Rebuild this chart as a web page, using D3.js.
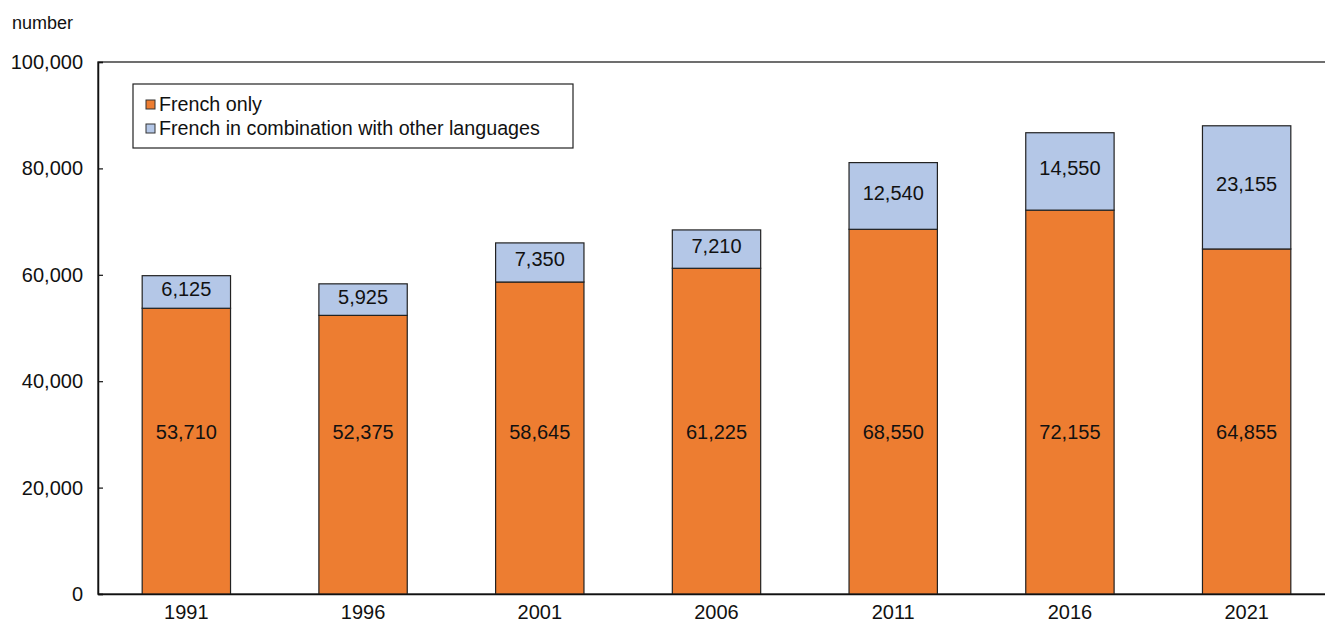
<!DOCTYPE html>
<html>
<head>
<meta charset="utf-8">
<script src="https://cdn.jsdelivr.net/npm/d3@7"></script>
<style>
  html, body { margin: 0; padding: 0; background: #fff; }
  svg { display: block; font-family: "Liberation Sans", Arial, sans-serif; }
</style>
</head>
<body>
<div id="chart"></div>
<script>
'use strict';

// Data
var years = ['1991', '1996', '2001', '2006', '2011', '2016', '2021'];
var frenchOnly = [53710, 52375, 58645, 61225, 68550, 72155, 64855];
var frenchCombined = [6125, 5925, 7350, 7210, 12540, 14550, 23155];
var seriesNames = ['French only', 'French in combination with other languages'];
var seriesColors = ['#ED7D31', '#B4C7E7'];
var yTicks = [0, 20000, 40000, 60000, 80000, 100000];

var width = 1325, height = 623;
var margin = { top: 62, left: 98, bottom: 29 };
var plotW = 1237;   // right edge runs off the canvas, as in the original
var plotH = height - margin.top - margin.bottom;

var svg = d3.select('#chart').append('svg')
  .attr('width', width)
  .attr('height', height);

var x = d3.scaleBand().domain(years)
  .range([margin.left, margin.left + plotW])
  .paddingInner(0.5)
  .paddingOuter(0.25);
var y = d3.scaleLinear().domain([0, 100000]).range([margin.top + plotH, margin.top]);

var fmt = d3.format(',');

// Stacked data
var rows = years.map(function (yr, i) {
  return { year: yr, only: frenchOnly[i], combined: frenchCombined[i] };
});
var stack = d3.stack().keys(['only', 'combined'])(rows);

// Plot frame
svg.append('rect')
  .attr('x', margin.left)
  .attr('y', margin.top)
  .attr('width', plotW)
  .attr('height', plotH)
  .attr('fill', 'none')
  .attr('stroke', '#222')
  .attr('stroke-width', 1.3);

// Bars
var layers = svg.append('g').selectAll('g')
  .data(stack)
  .join('g')
  .attr('fill', function (d, i) { return seriesColors[i]; });

layers.selectAll('rect')
  .data(function (d) { return d; })
  .join('rect')
  .attr('x', function (d) { return x(d.data.year); })
  .attr('width', x.bandwidth())
  .attr('y', function (d) { return y(d[1]); })
  .attr('height', function (d) { return y(d[0]) - y(d[1]); })
  .attr('stroke', '#222')
  .attr('stroke-width', 1.2);

// Value labels
var labelG = svg.append('g').attr('font-size', 20).attr('fill', '#111').attr('text-anchor', 'middle');
labelG.selectAll('text.only')
  .data(rows)
  .join('text')
  .attr('class', 'only')
  .attr('x', function (d) { return x(d.year) + x.bandwidth() / 2; })
  .attr('y', y(30500))
  .attr('dy', '0.35em')
  .text(function (d) { return fmt(d.only); });

labelG.selectAll('text.combined')
  .data(stack[1])
  .join('text')
  .attr('class', 'combined')
  .attr('x', function (d) { return x(d.data.year) + x.bandwidth() / 2; })
  .attr('y', function (d) { return (y(d[0]) + y(d[1])) / 2 - 3; })
  .attr('dy', '0.35em')
  .text(function (d) { return fmt(d.data.combined); });

// Y axis (ticks point inward)
var yAxis = svg.append('g')
  .attr('transform', 'translate(' + margin.left + ',0)')
  .call(d3.axisRight(y).tickValues(yTicks).tickSize(5).tickFormat(fmt));
yAxis.select('.domain').attr('stroke', '#111').attr('stroke-width', 1.5);
yAxis.selectAll('.tick line').attr('stroke', '#111').attr('stroke-width', 1.2);
yAxis.selectAll('.tick text')
  .attr('x', -15)
  .attr('text-anchor', 'end')
  .attr('font-size', 20)
  .attr('fill', '#111');

// X axis
var xAxis = svg.append('g')
  .attr('transform', 'translate(0,' + (margin.top + plotH) + ')')
  .call(d3.axisBottom(x).tickSize(0).tickPadding(11));
xAxis.select('.domain').attr('stroke', '#111').attr('stroke-width', 1.5);
xAxis.selectAll('.tick text')
  .attr('font-size', 20)
  .attr('fill', '#111');

// Unit label
svg.append('text')
  .attr('x', 12)
  .attr('y', 29)
  .attr('font-size', 18)
  .attr('fill', '#111')
  .text('number');

// Legend
var legend = svg.append('g').attr('transform', 'translate(133,84)');
legend.append('rect')
  .attr('width', 440)
  .attr('height', 64)
  .attr('fill', '#fff')
  .attr('stroke', '#222')
  .attr('stroke-width', 1.2);

var items = legend.selectAll('g.item')
  .data(seriesNames)
  .join('g')
  .attr('class', 'item')
  .attr('transform', function (d, i) { return 'translate(13,' + (16 + i * 24) + ')'; });

items.append('rect')
  .attr('width', 9)
  .attr('height', 9)
  .attr('fill', function (d, i) { return seriesColors[i]; })
  .attr('stroke', '#333')
  .attr('stroke-width', 1);

items.append('text')
  .attr('x', 13)
  .attr('y', 4.5)
  .attr('dy', '0.35em')
  .attr('font-size', 19.7)
  .attr('fill', '#111')
  .text(function (d) { return d; });
</script>
</body>
</html>
